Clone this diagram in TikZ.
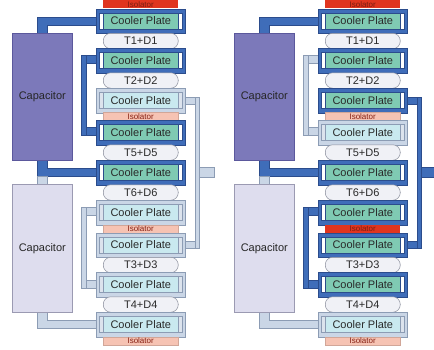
\documentclass[tikz,border=0pt]{standalone}
\usepackage{fontspec}
\setmainfont{Liberation Sans}
\definecolor{busD}{HTML}{3F6DB9}
\definecolor{busDline}{HTML}{2B4C8C}
\definecolor{busL}{HTML}{CAD6E6}
\definecolor{busLline}{HTML}{8C9CB4}
\definecolor{tealD}{HTML}{7FCAB3}
\definecolor{tealL}{HTML}{C9E9EF}
\definecolor{innL}{HTML}{DCE3ED}
\definecolor{capD}{HTML}{7C79BA}
\definecolor{capDline}{HTML}{5B589C}
\definecolor{capL}{HTML}{DEDDEE}
\definecolor{capLline}{HTML}{9B9AB2}
\definecolor{isoR}{HTML}{E0351F}
\definecolor{isoP}{HTML}{F6C3B3}
\definecolor{tfill}{HTML}{F0F1F6}
\definecolor{tline}{HTML}{8A8E9C}
\definecolor{txt}{HTML}{2A2A2A}
\tikzset{
  cpDo/.style={draw=busDline, fill=busD, line width=0.6pt, minimum width=89pt, minimum height=24.5pt, inner sep=0pt, anchor=north west},
  cpDi/.style={draw=busDline, fill=white, line width=0.4pt, minimum width=83pt, minimum height=16pt, inner sep=0pt},
  cpDt/.style={draw=busDline, fill=tealD, line width=0.3pt, minimum width=75pt, minimum height=16pt, inner sep=0pt, text=txt, font=\fontsize{11}{12}\selectfont},
  cpLo/.style={draw=busLline, fill=busL, line width=0.6pt, minimum width=89pt, minimum height=24.5pt, inner sep=0pt, anchor=north west},
  cpLi/.style={draw=busLline, fill=innL, line width=0.4pt, minimum width=83pt, minimum height=16pt, inner sep=0pt},
  cpLt/.style={draw=busLline, fill=tealL, line width=0.3pt, minimum width=75pt, minimum height=16pt, inner sep=0pt, text=txt, font=\fontsize{11}{12}\selectfont},
  tnode/.style={draw=tline, fill=tfill, line width=0.5pt, rounded corners=7.5pt, minimum width=75pt, minimum height=15.5pt, inner sep=0pt, anchor=north west, text=txt, font=\fontsize{11}{12}\selectfont},
  isored/.style={fill=isoR, minimum width=75pt, minimum height=8pt, inner sep=0pt, anchor=north west, text=isoR!55!black, font=\fontsize{8}{8}\selectfont},
  isopink/.style={draw=isoP!85!black, line width=0.3pt, fill=isoP, minimum width=75pt, minimum height=8pt, inner sep=0pt, anchor=north west, text=isoR!60!black, font=\fontsize{8}{8}\selectfont},
  capdark/.style={draw=capDline, fill=capD, line width=0.6pt, minimum width=60pt, minimum height=127pt, inner sep=0pt, anchor=north west, text=black!85, font=\fontsize{11}{12}\selectfont},
  caplight/.style={draw=capLline, fill=capL, line width=0.6pt, minimum width=60pt, minimum height=128pt, inner sep=0pt, anchor=north west, text=black!85, font=\fontsize{11}{12}\selectfont},
  barD/.style={draw=busDline, fill=busD, line width=0.5pt},
  barL/.style={draw=busLline, fill=busL, line width=0.5pt},
}
\newcommand\cpD[3]{\node[cpDo] (#1) at (#2,#3) {}; \node[cpDi] (#1i) at (#1.center) {}; \node[cpDt] (#1t) at (#1.center) {Cooler Plate};}
\newcommand\cpL[3]{\node[cpLo] (#1) at (#2,#3) {}; \node[cpLi] (#1i) at (#1.center) {}; \node[cpLt] (#1t) at (#1.center) {Cooler Plate};}
\begin{document}
\begin{tikzpicture}[x=1pt,y=-1pt]
\useasboundingbox (0,0) rectangle (434,349);
\clip (0,0) rectangle (434,349);
\fill[white] (0,0) rectangle (434,349);
% ================= LEFT HALF =================
% busbars
\draw[barD] (37,17) -- (96,17) -- (96,25) -- (47,25) -- (47,33) -- (37,33) -- cycle;
\draw[barD] (81,55) rectangle (86,135);
\draw[barD] (86,55) rectangle (96,63);
\draw[barD] (86,127) rectangle (96,135);
\draw[barD] (37,160) -- (47,160) -- (47,168) -- (96,168) -- (96,176) -- (37,176) -- cycle;
\draw[barL] (37,176) rectangle (47,184);
\draw[barL] (81,207) rectangle (86,288);
\draw[barL] (86,207) rectangle (96,215);
\draw[barL] (86,280) rectangle (96,288);
\draw[barL] (37,312) -- (47,312) -- (47,320) -- (96,320) -- (96,328) -- (37,328) -- cycle;
\draw[barL] (185,97) rectangle (195,104);
\draw[barL] (185,241) rectangle (195,248);
\draw[barL] (195,97) rectangle (199,248);
\draw[barL] (199,167) rectangle (214,177);
% capacitors
\node[capdark] (lcapT) at (12,33) {Capacitor};
\node[caplight] (lcapB) at (12,184) {Capacitor};
% stack
\node[isored] (li0) at (103,0) {Isolator};
\cpD{l1}{96}{8.5}
\node[tnode] (lt1) at (103,33) {T1+D1};
\cpD{l2}{96}{48}
\node[tnode] (lt2) at (103,72.5) {T2+D2};
\cpL{l3}{96}{88}
\node[isopink] (li1) at (103,112) {Isolator};
\cpD{l4}{96}{120}
\node[tnode] (lt5) at (103,144.5) {T5+D5};
\cpD{l5}{96}{160}
\node[tnode] (lt6) at (103,184.5) {T6+D6};
\cpL{l6}{96}{200}
\node[isopink] (li2) at (103,224.5) {Isolator};
\cpL{l7}{96}{232.5}
\node[tnode] (lt3) at (103,257) {T3+D3};
\cpL{l8}{96}{272}
\node[tnode] (lt4) at (103,296.5) {T4+D4};
\cpL{l9}{96}{312}
\node[isopink] (li3) at (103,336.5) {Isolator};
% ================= RIGHT HALF =================
\begin{scope}[xshift=222pt]
\draw[barD] (37,17) -- (96,17) -- (96,25) -- (47,25) -- (47,33) -- (37,33) -- cycle;
\draw[barL] (81,55) rectangle (86,135);
\draw[barL] (86,55) rectangle (96,63);
\draw[barL] (86,127) rectangle (96,135);
\draw[barD] (37,160) -- (47,160) -- (47,168) -- (96,168) -- (96,176) -- (37,176) -- cycle;
\draw[barL] (37,176) rectangle (47,184);
\draw[barD] (81,207) rectangle (86,288);
\draw[barD] (86,207) rectangle (96,215);
\draw[barD] (86,280) rectangle (96,288);
\draw[barL] (37,312) -- (47,312) -- (47,320) -- (96,320) -- (96,328) -- (37,328) -- cycle;
\draw[barD] (185,97) rectangle (195,104);
\draw[barD] (185,241) rectangle (195,248);
\draw[barD] (195,97) rectangle (199,248);
\draw[barD] (199,167) rectangle (214,177);
\node[capdark] (rcapT) at (12,33) {Capacitor};
\node[caplight] (rcapB) at (12,184) {Capacitor};
\node[isored] (ri0) at (103,0) {Isolator};
\cpD{r1}{96}{8.5}
\node[tnode] (rt1) at (103,33) {T1+D1};
\cpD{r2}{96}{48}
\node[tnode] (rt2) at (103,72.5) {T2+D2};
\cpD{r3}{96}{88}
\node[isopink] (ri1) at (103,112) {Isolator};
\cpL{r4}{96}{120}
\node[tnode] (rt5) at (103,144.5) {T5+D5};
\cpD{r5}{96}{160}
\node[tnode] (rt6) at (103,184.5) {T6+D6};
\cpD{r6}{96}{200}
\node[isored] (ri2) at (103,224.5) {Isolator};
\cpD{r7}{96}{232.5}
\node[tnode] (rt3) at (103,257) {T3+D3};
\cpD{r8}{96}{272}
\node[tnode] (rt4) at (103,296.5) {T4+D4};
\cpL{r9}{96}{312}
\node[isopink] (ri3) at (103,336.5) {Isolator};
\end{scope}
\end{tikzpicture}
\end{document}
